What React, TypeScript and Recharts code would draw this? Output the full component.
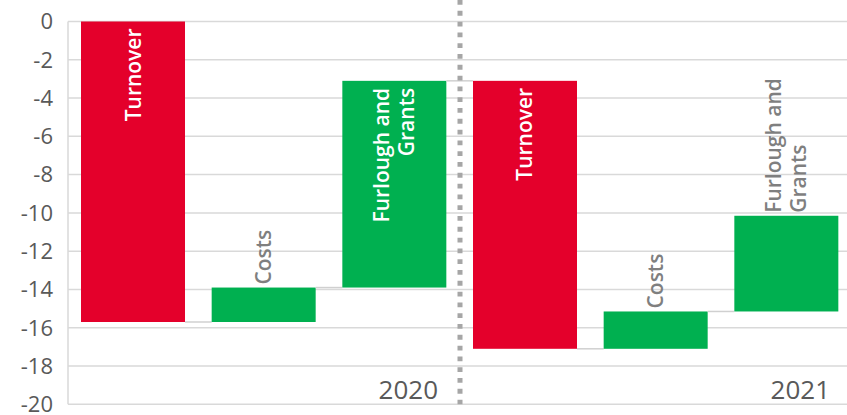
import React from 'react';
import { BarChart, Bar, XAxis, YAxis, CartesianGrid, ReferenceLine } from 'recharts';

// ---- data ----
const categories = ['Turnover 2020', 'Costs 2020', 'Furlough 2020', 'Turnover 2021', 'Costs 2021', 'Furlough 2021'];
const barLabels = ['Turnover', 'Costs', 'Furlough and|Grants', 'Turnover', 'Costs', 'Furlough and|Grants'];
const startValues = [0, -15.7, -13.9, -3.1, -17.1, -15.15];
const endValues = [-15.7, -13.9, -3.1, -17.1, -15.15, -10.15];
const labelInside = [true, false, true, true, false, false];
const years = ['2020', '2021'];
const yearEndCategory = ['Furlough 2020', 'Furlough 2021'];
const dividerCategory = 'Turnover 2021';
const yTicks = [0, -2, -4, -6, -8, -10, -12, -14, -16, -18, -20];

// ---- style ----
const CHART_W = 852;
const CHART_H = 415;
const YAXIS_W = 68;
const BAR_SIZE = 104;
const RED = '#E4002B';
const GREEN = '#00B050';
const GRID = '#d9d9d9';
const TICK_COLOR = '#595959';
const LABEL_GRAY = '#7f7f7f';
const FONT = '"Open Sans", "DejaVu Sans", sans-serif';
const LABEL_SIZE = 21;
const LINE_H = 25;
const CONNECTOR = (CHART_W - YAXIS_W) / categories.length - BAR_SIZE;

const data = categories.map((name, i) => ({
  name,
  range: [startValues[i], endValues[i]],
  start: startValues[i],
  end: endValues[i],
  label: barLabels[i],
  inside: labelInside[i],
  hasNext: i < categories.length - 1,
}));

const BarShape = (props: any) => {
  const { x, y, width, height, payload } = props;
  if (x == null || y == null) return null;
  const top = Math.min(y, y + height);
  const h = Math.abs(height);
  const cx = x + width / 2;
  const falling = payload.end < payload.start;
  const fill = falling ? RED : GREEN;
  const connY = falling ? top + h : top;
  const lines: string[] = String(payload.label).split('|');
  const inside = payload.inside;
  const ax = cx;
  const ay = inside ? top + 7 : top - 3;
  const n = lines.length;
  return (
    <g>
      <rect x={x} y={top} width={width} height={h} fill={fill} />
      {payload.hasNext && (
        <line x1={x + width} y1={connY} x2={x + width + CONNECTOR} y2={connY} stroke="#d0d0d0" strokeWidth={1.5} />
      )}
      {lines.map((ln, i) => {
        const d = (i - (n - 1) / 2) * LINE_H + 7.5;
        return (
          <text
            key={i}
            x={ax}
            y={ay + d}
            transform={`rotate(-90 ${ax} ${ay})`}
            textAnchor={inside ? 'end' : 'start'}
            fill={inside ? '#ffffff' : LABEL_GRAY}
            fontFamily={FONT}
            fontWeight={600}
            fontSize={LABEL_SIZE}
          >
            {ln}
          </text>
        );
      })}
    </g>
  );
};

const makeYearLabel = (text: string) => (p: any) => {
  const vb = p.viewBox || {};
  const bx = vb.x ?? 0;
  const by = (vb.y ?? 0) + (vb.height ?? 0);
  return (
    <text x={bx - 22} y={by - 5} textAnchor="end" fill={TICK_COLOR} fontFamily={FONT} fontSize={26}>
      {text}
    </text>
  );
};

export default function App() {
  return (
    <div style={{ position: 'absolute', left: 0, top: 0, width: 847, height: 415, overflow: 'hidden', background: '#fff' }}>
      <BarChart
        width={CHART_W}
        height={CHART_H}
        data={data}
        margin={{ top: 21.5, right: 0, bottom: 10.7, left: 0 }}
        barSize={BAR_SIZE}
      >
        <CartesianGrid vertical={false} stroke={GRID} strokeWidth={1.5} />
        <XAxis dataKey="name" hide />
        <YAxis
          type="number"
          domain={[-20, 0]}
          ticks={yTicks}
          interval={0}
          width={YAXIS_W}
          tickLine={false}
          tickSize={0}
          tickMargin={15}
          axisLine={{ stroke: GRID, strokeWidth: 1.5 }}
          tick={{ fill: TICK_COLOR, fontSize: 22, fontFamily: FONT }}
        />
        <Bar dataKey="range" isAnimationActive={false} shape={BarShape} />
        <ReferenceLine
          segment={[
            { x: dividerCategory, y: 1.12 },
            { x: dividerCategory, y: -20 },
          ]}
          position="start"
          ifOverflow="visible"
          stroke="#a6a6a6"
          strokeWidth={5}
          strokeDasharray="4.8 6"
        />
        {years.map((yr, i) => (
          <ReferenceLine
            key={yr}
            x={yearEndCategory[i]}
            position="end"
            stroke="none"
            label={makeYearLabel(yr)}
          />
        ))}
      </BarChart>
    </div>
  );
}
